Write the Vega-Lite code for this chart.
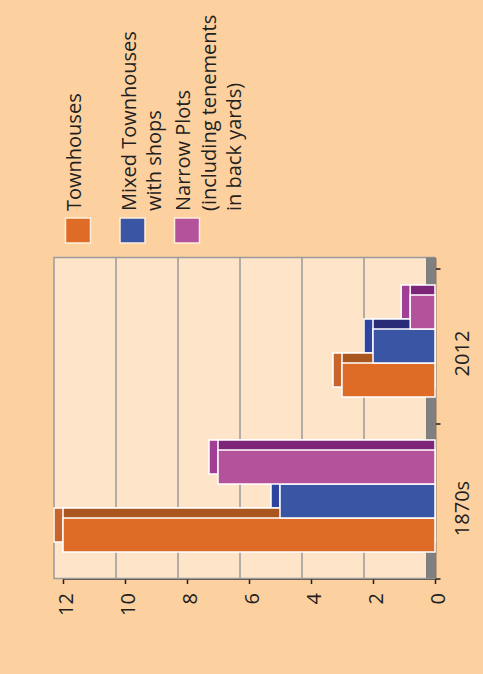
{
  "$schema": "https://vega.github.io/schema/vega-lite/v6.json",
  "background": "#fdd09f",
  "padding": {"left": 53, "top": 0, "right": 14, "bottom": 58},
  "config": {
    "font": "Open Sans",
    "view": {"stroke": null},
    "axis": {
      "labelFont": "Open Sans",
      "labelFontSize": 20,
      "labelColor": "#231f20",
      "domainColor": "#231f20",
      "tickColor": "#231f20",
      "domainWidth": 1.5,
      "tickWidth": 1.5,
      "grid": false
    }
  },
  "datasets": {
    "bars": [
      {"period": "1870s", "series": "Townhouses", "value": 12},
      {"period": "1870s", "series": "Mixed Townhouses with shops", "value": 5},
      {"period": "1870s", "series": "Narrow Plots (including tenements in back yards)", "value": 7},
      {"period": "2012", "series": "Townhouses", "value": 3},
      {"period": "2012", "series": "Mixed Townhouses with shops", "value": 2},
      {"period": "2012", "series": "Narrow Plots (including tenements in back yards)", "value": 0.8}
    ],
    "legend": [
      {"series": "Townhouses", "label": "Townhouses"},
      {"series": "Mixed Townhouses with shops", "label": "Mixed Townhouses\nwith shops"},
      {"series": "Narrow Plots (including tenements in back yards)", "label": "Narrow Plots\n(including tenements\nin back yards)"}
    ],
    "grid": [{"v": 2}, {"v": 4}, {"v": 6}, {"v": 8}, {"v": 10}]
  },
  "bounds": "flush",
  "spacing": 26.5,
  "vconcat": [
    {
      "width": 139,
      "height": 230.5,
      "data": {"name": "legend"},
      "encoding": {
        "x": {
          "field": "series",
          "type": "nominal",
          "sort": ["Townhouses", "Mixed Townhouses with shops", "Narrow Plots (including tenements in back yards)"],
          "scale": {"type": "point", "padding": 0.275},
          "axis": null
        },
        "y": {"datum": 0, "type": "quantitative", "scale": {"domain": [0, 1]}, "axis": null}
      },
      "layer": [
        {
          "mark": {"type": "square", "size": 625, "opacity": 1, "filled": true, "stroke": "#fdeedd", "strokeWidth": 1.5},
          "encoding": {
            "color": {
              "field": "series",
              "type": "nominal",
              "scale": {
                "domain": ["Townhouses", "Mixed Townhouses with shops", "Narrow Plots (including tenements in back yards)"],
                "range": ["#de6b26", "#3a55a3", "#b5529c"]
              },
              "legend": null
            }
          }
        },
        {
          "mark": {
            "type": "text",
            "angle": 270,
            "align": "left",
            "baseline": "top",
            "dx": 19.5,
            "dy": -13,
            "font": "Open Sans",
            "fontSize": 20,
            "lineHeight": 25.5,
            "lineBreak": "\n",
            "color": "#231f20"
          },
          "encoding": {"text": {"field": "label", "type": "nominal"}}
        }
      ]
    },
    {
      "width": 372,
      "height": 321,
      "data": {"name": "bars"},
      "resolve": {"scale": {"yOffset": "independent", "fill": "independent"}},
      "layer": [
        {
          "data": {"values": [{}]},
          "mark": {"type": "rect", "fill": "#fee4c8", "stroke": "#9b9b9b", "strokeWidth": 1.5, "xOffset": -9},
          "encoding": {
            "x": {"datum": 12, "type": "quantitative"},
            "x2": {"datum": 0}
          }
        },
        {
          "data": {"values": [{}]},
          "mark": {"type": "rect", "fill": "#808080", "xOffset": -9},
          "encoding": {
            "x": {"datum": 0, "type": "quantitative"},
            "x2": {"datum": 0}
          }
        },
        {
          "data": {"name": "grid"},
          "mark": {"type": "rule", "stroke": "#9b9b9b", "strokeWidth": 1.5, "xOffset": -9},
          "encoding": {"x": {"field": "v", "type": "quantitative"}}
        },
        {
          "mark": {"type": "bar", "stroke": "white", "strokeWidth": 1.5, "xOffset": -9, "x2Offset": -9},
          "encoding": {
            "y": {"field": "period", "type": "nominal", "sort": ["2012", "1870s"]},
            "x": {"field": "value", "type": "quantitative"},
            "yOffset": {
              "field": "series",
              "type": "nominal",
              "sort": ["Narrow Plots (including tenements in back yards)", "Mixed Townhouses with shops", "Townhouses"],
              "scale": {"paddingInner": 0, "paddingOuter": 0.78, "align": 0.311}
            },
            "fill": {
              "field": "series",
              "type": "nominal",
              "scale": {
                "domain": ["Townhouses", "Mixed Townhouses with shops", "Narrow Plots (including tenements in back yards)"],
                "range": ["#c8652c", "#2e45a0", "#a03f95"]
              },
              "legend": null
            }
          }
        },
        {
          "mark": {"type": "bar", "stroke": "white", "strokeWidth": 1.5},
          "encoding": {
            "y": {"field": "period", "type": "nominal", "sort": ["2012", "1870s"]},
            "x": {"field": "value", "type": "quantitative"},
            "yOffset": {
              "field": "series",
              "type": "nominal",
              "sort": ["Narrow Plots (including tenements in back yards)", "Mixed Townhouses with shops", "Townhouses"],
              "scale": {"paddingInner": 0, "paddingOuter": 0.78, "align": 0.311}
            },
            "fill": {
              "field": "series",
              "type": "nominal",
              "scale": {
                "domain": ["Townhouses", "Mixed Townhouses with shops", "Narrow Plots (including tenements in back yards)"],
                "range": ["#a9561f", "#2a2c78", "#7c2579"]
              },
              "legend": null
            }
          }
        },
        {
          "mark": {"type": "bar", "stroke": "white", "strokeWidth": 1.5},
          "encoding": {
            "y": {
              "field": "period",
              "type": "nominal",
              "sort": ["2012", "1870s"],
              "scale": {"paddingInner": 0, "paddingOuter": 0.0355, "align": 1},
              "axis": {
                "orient": "right",
                "title": null,
                "tickBand": "extent",
                "labelAngle": 270,
                "labelAlign": "center",
                "labelBaseline": "top",
                "labelPadding": 12,
                "labelOffset": 7,
                "tickSize": 5
              }
            },
            "x": {
              "field": "value",
              "type": "quantitative",
              "scale": {"domain": [0, 12], "reverse": true, "nice": false, "zero": true},
              "axis": {
                "orient": "bottom",
                "title": null,
                "values": [0, 2, 4, 6, 8, 10, 12],
                "labelAngle": 270,
                "labelAlign": "right",
                "labelBaseline": "middle",
                "labelPadding": 9,
                "labelOffset": 3,
                "tickSize": 5
              }
            },
            "yOffset": {
              "field": "series",
              "type": "nominal",
              "sort": ["Narrow Plots (including tenements in back yards)", "Mixed Townhouses with shops", "Townhouses"],
              "scale": {"paddingInner": 0, "paddingOuter": 0.78}
            },
            "color": {
              "field": "series",
              "type": "nominal",
              "scale": {
                "domain": ["Townhouses", "Mixed Townhouses with shops", "Narrow Plots (including tenements in back yards)"],
                "range": ["#de6b26", "#3a55a3", "#b5529c"]
              },
              "legend": null
            }
          }
        }
      ]
    }
  ]
}
